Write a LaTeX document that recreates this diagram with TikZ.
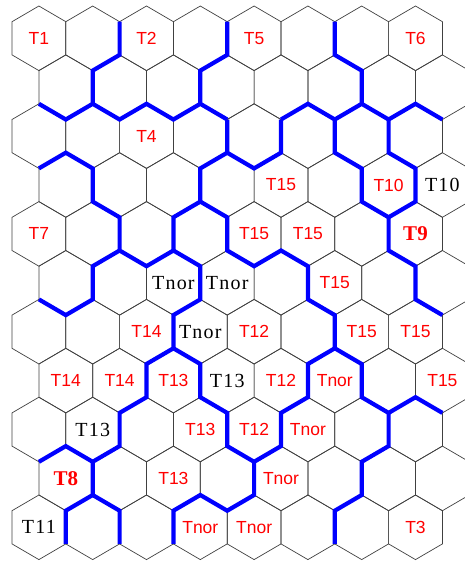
\documentclass[tikz,border=0pt]{standalone}
\usepackage{fontspec}
\setmainfont{Liberation Serif}
\setsansfont{Liberation Sans}
\begin{document}
\begin{tikzpicture}[x=1pt,y=-1pt,
  cell/.style={draw=black!75,line width=0.7pt},
  zone/.style={draw=blue,line width=4.2pt},
  redtag/.style={text=red,font=\sffamily\fontsize{17.5}{17.5}\selectfont,inner sep=0pt},
  blacktag/.style={font=\fontsize{20}{20}\selectfont\addfontfeature{LetterSpace=6},inner sep=0pt},
  boldtag/.style={text=red,font=\bfseries\fontsize{21}{21}\selectfont,inner sep=0pt}]
\useasboundingbox (0,0) rectangle (465,563);
\clip (0,0) rectangle (465,563);
% corners of the cells and their centres
\foreach \i in {0,...,17}
  \foreach \k in {0,...,23}{
    \pgfmathsetmacro\vx{12+26.9*\i}
    \pgfmathsetmacro\vy{6+15.7*mod(\k,2)+48.9*floor(\k/2)}
    \coordinate (v-\i-\k) at (\vx,\vy);
  }
% the hexagonal cells
\foreach \m in {0,...,10}
  \foreach \c in {0,...,7}{
    \pgfmathtruncatemacro\i{2*\c+1+mod(\m,2)}
    \pgfmathsetmacro\cx{12+26.9*\i}
    \pgfmathsetmacro\cy{38.3+48.9*\m}
    \coordinate (c-\i-\m) at (\cx,\cy);
    \draw[cell] (\cx,\cy) ++(0,-32.3) -- ++(26.9,15.7) -- ++(0,33.2)
      -- ++(-26.9,15.7) -- ++(-26.9,-15.7) -- ++(0,-33.2) -- cycle;
  }
% zone borders
\draw[zone] (v-4-1) -- (v-4-2) -- (v-3-3) -- (v-3-4);
\draw[zone] (v-1-4) -- (v-2-5) -- (v-3-4) -- (v-4-5) -- (v-5-4) -- (v-6-5) -- (v-7-4) -- (v-8-5);
\draw[zone] (v-8-1) -- (v-8-2) -- (v-7-3) -- (v-7-4);
\draw[zone] (v-8-5) -- (v-8-6) -- (v-7-7) -- (v-7-8);
\draw[zone] (v-8-6) -- (v-9-7) -- (v-10-6) -- (v-10-5);
\draw[zone] (v-10-5) -- (v-11-4) -- (v-12-5) -- (v-13-4) -- (v-14-5) -- (v-15-4) -- (v-16-5);
\draw[zone] (v-12-1) -- (v-12-2) -- (v-13-3) -- (v-13-4);
\draw[zone] (v-12-5) -- (v-12-6) -- (v-13-7) -- (v-13-8) -- (v-14-9) -- (v-14-10)
  -- (v-15-11) -- (v-15-12) -- (v-16-13);
\draw[zone] (v-14-5) -- (v-14-6) -- (v-15-7) -- (v-15-8) -- (v-14-9);
\draw[zone] (v-1-7) -- (v-2-6) -- (v-3-7) -- (v-3-8) -- (v-4-9) -- (v-4-10) -- (v-5-11)
  -- (v-6-10) -- (v-7-11) -- (v-7-12) -- (v-6-13) -- (v-6-14) -- (v-5-15) -- (v-5-16)
  -- (v-4-17) -- (v-4-18) -- (v-3-19) -- (v-3-20) -- (v-2-21) -- (v-2-22);
\draw[zone] (v-6-10) -- (v-6-9) -- (v-7-8) -- (v-8-9) -- (v-8-10) -- (v-9-11) -- (v-10-10)
  -- (v-11-11) -- (v-11-12) -- (v-12-13) -- (v-12-14) -- (v-13-15) -- (v-13-16)
  -- (v-14-17) -- (v-15-16) -- (v-16-17);
\draw[zone] (v-1-12) -- (v-2-13) -- (v-3-12) -- (v-3-11) -- (v-4-10);
\draw[zone] (v-6-14) -- (v-7-15) -- (v-7-16) -- (v-8-17) -- (v-8-18) -- (v-9-19) -- (v-9-20)
  -- (v-8-21) -- (v-7-20) -- (v-6-21) -- (v-6-22);
\draw[zone] (v-12-14) -- (v-11-15) -- (v-11-16) -- (v-10-17) -- (v-10-18) -- (v-9-19);
\draw[zone] (v-14-17) -- (v-14-18) -- (v-13-19) -- (v-13-20) -- (v-12-21) -- (v-12-22);
\draw[zone] (v-1-19) -- (v-2-18) -- (v-3-19);
\draw[zone] (v-3-20) -- (v-4-21) -- (v-4-22);
% labels
\foreach \i/\m/\t in {1/0/T1,5/0/T2,9/0/T5,15/0/T6,5/2/T4,10/3/T15,14/3/T10,
    1/4/T7,9/4/T15,11/4/T15,12/5/T15,5/6/T14,9/6/T12,13/6/T15,15/6/T15,
    2/7/T14,4/7/T14,6/7/T13,10/7/T12,12/7/Tnor,16/7/T15,7/8/T13,9/8/T12,
    11/8/Tnor,6/9/T13,10/9/Tnor,7/10/Tnor,9/10/Tnor,15/10/T3}
  \node[redtag] (l-\i-\m) at (c-\i-\m) {\t};
\foreach \i/\m/\t in {16/3/T10,6/5/Tnor,8/5/Tnor,7/6/Tnor,8/7/T13,3/8/T13,1/10/T11}
  \node[blacktag] (l-\i-\m) at (c-\i-\m) {\t};
\node[boldtag] (l-15-4) at (c-15-4) {T9};
\node[boldtag] (l-2-9) at (c-2-9) {T8};
\end{tikzpicture}
\end{document}
